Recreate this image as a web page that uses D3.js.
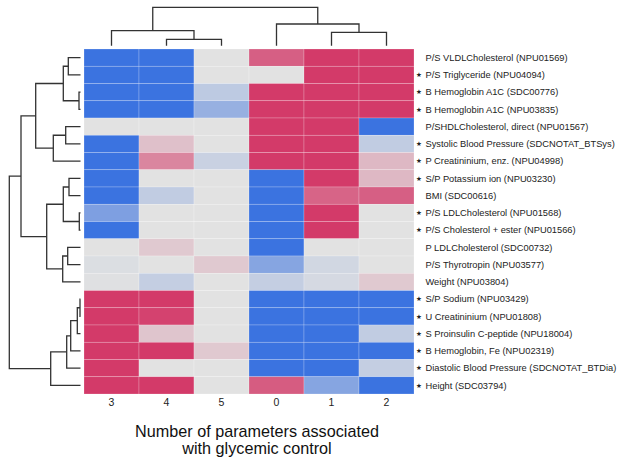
<!DOCTYPE html>
<html><head><meta charset="utf-8">
<script src="https://cdn.jsdelivr.net/npm/d3@7"></script>
<style>body{margin:0;background:#fff}svg{display:block}</style>
</head><body>
<svg id="chart" width="617" height="459"></svg>
<script>
// ---- data ----
const columns = ["3","4","5","0","1","2"];
const rowLabels = [
  "P/S VLDLCholesterol (NPU01569)",
  "P/S Triglyceride (NPU04094)",
  "B Hemoglobin A1C (SDC00776)",
  "B Hemoglobin A1C (NPU03835)",
  "P/SHDLCholesterol, direct (NPU01567)",
  "Systolic Blood Pressure (SDCNOTAT_BTSys)",
  "P Creatininium, enz. (NPU04998)",
  "S/P Potassium ion (NPU03230)",
  "BMI (SDC00616)",
  "P/S LDLCholesterol (NPU01568)",
  "P/S Cholesterol + ester (NPU01566)",
  "P LDLCholesterol (SDC00732)",
  "P/S Thyrotropin (NPU03577)",
  "Weight (NPU03804)",
  "S/P Sodium (NPU03429)",
  "U Creatininium (NPU01808)",
  "S Proinsulin C-peptide (NPU18004)",
  "B Hemoglobin, Fe (NPU02319)",
  "Diastolic Blood Pressure (SDCNOTAT_BTDia)",
  "Height (SDC03794)"
];
const starred = [false,true,true,true,false,true,true,true,false,true,true,false,false,false,true,true,true,true,true,true];
// values per row, in column order 3,4,5,0,1,2
const values = [
  [-1,-1,0,0.78,1,1],
  [-1,-1,0,0,1,1],
  [-1,-1,-0.22,1,1,1],
  [-1,-1,-0.45,1,1,1],
  [0,0,0,1,1,-1],
  [-1,0.2,0,1,1,-0.2],
  [-1,0.55,-0.15,1,1,0.25],
  [-1,0,0,-1,1,0.25],
  [-1,-0.2,0,-1,0.75,0.78],
  [-0.6,0,0,-1,1,0],
  [-1,0,0,-1,1,0],
  [0,0.15,0,-1,0,0],
  [-0.04,0,0.15,-0.55,-0.1,0],
  [-0.02,-0.18,0,-0.18,-0.08,0.15],
  [1,1,0,-1,-1,-1],
  [1,0.95,0,-1,-1,-1],
  [1,0.17,0,-1,-1,-0.2],
  [1,1,0.15,-1,-1,-1],
  [1,0,0,-1,-1,-0.18],
  [1,1,0,0.8,-0.55,-1]
];
// row linkage: [childA, childB, height]; clusters numbered from 20
const rowMerges = [
  [0,1,12.2],[2,3,1.5],[20,21,17.2],[4,5,14.8],[23,6,27.2],[22,24,44.8],
  [7,8,11.5],[9,10,1.2],[26,27,17.2],[11,12,12.8],[29,13,17.8],[28,30,33.8],
  [25,31,59.5],[14,15,0.5],[33,16,3.2],[34,17,9.8],[35,18,13.8],[36,19,29.8],
  [32,37,71.2]
];
// column linkage (display positions 0..5); clusters numbered from 6
const colMerges = [[1,2,6.4],[0,6,15],[4,5,13.4],[3,8,21.7],[7,9,38.4]];
const titleLines = ["Number of parameters associated","with glycemic control"];

// ---- layout ----
const svg = d3.select("#chart");
const x = d3.scaleBand().domain(columns).range([84,414]);
const y = d3.scaleBand().domain(d3.range(rowLabels.length)).range([49,394]);
const color = d3.scaleLinear().domain([-1,0,1]).range(["#3b73e0","#e2e2e2","#d33a69"]);

const cells = [];
values.forEach((row,i)=>row.forEach((v,j)=>cells.push({i,j,v})));
svg.append("g").selectAll("rect").data(cells).join("rect")
  .attr("x",d=>x(columns[d.j])).attr("y",d=>y(d.i))
  .attr("width",x.bandwidth()).attr("height",y.bandwidth())
  .attr("fill",d=>color(d.v))
  .attr("stroke","#ffffff").attr("stroke-opacity",0.35).attr("stroke-width",0.6);

// row labels
const lab = svg.append("g").attr("font-family","'Liberation Sans', Arial, Helvetica, sans-serif").attr("fill","#222");
lab.selectAll("text.lbl").data(rowLabels).join("text").attr("class","lbl")
  .attr("x",425.5).attr("y",(d,i)=>y(i)+y.bandwidth()/2).attr("dy","0.35em")
  .attr("font-size",9.3).text(d=>d);
lab.selectAll("text.star").data(rowLabels.map((d,i)=>i).filter(i=>starred[i])).join("text").attr("class","star")
  .attr("x",419).attr("y",i=>y(i)+y.bandwidth()/2).attr("dy","0.33em")
  .attr("text-anchor","middle").attr("font-family","'DejaVu Sans', sans-serif")
  .attr("font-size",6.5).text("★");

// column labels
svg.append("g").attr("font-family","'Liberation Sans', Arial, sans-serif").attr("fill","#222")
  .selectAll("text").data(columns).join("text")
  .attr("x",d=>x(d)+x.bandwidth()/2).attr("y",406).attr("text-anchor","middle")
  .attr("font-size",10.5).text(d=>d);

// title
svg.append("g").attr("font-family","'Liberation Sans', Arial, sans-serif").attr("fill","#111")
  .selectAll("text").data(titleLines).join("text")
  .attr("x",257).attr("y",(d,i)=>437+i*16.5).attr("text-anchor","middle")
  .attr("font-size",16.2).text(d=>d);

// dendrograms
function dendro(merges, nLeaves, leafPos, hScale, orient){
  const pos = leafPos.slice(), ht = new Array(nLeaves).fill(0);
  const paths = [];
  merges.forEach(([a,b,h])=>{
    const pa=pos[a], pb=pos[b], ha=ht[a], hb=ht[b];
    const p = d3.path();
    if(orient==="left"){
      p.moveTo(hScale(ha),pa); p.lineTo(hScale(h),pa); p.lineTo(hScale(h),pb); p.lineTo(hScale(hb),pb);
    } else {
      p.moveTo(pa,hScale(ha)); p.lineTo(pa,hScale(h)); p.lineTo(pb,hScale(h)); p.lineTo(pb,hScale(hb));
    }
    paths.push(p.toString());
    pos.push((pa+pb)/2); ht.push(h);
  });
  return paths;
}
const rowH = d3.scaleLinear().domain([0,71.2]).range([80.5,9.3]);
const rowPaths = dendro(rowMerges, rowLabels.length, rowLabels.map((d,i)=>y(i)+y.bandwidth()/2), rowH, "left");
const colH = d3.scaleLinear().domain([0,38.4]).range([45.7,7.3]);
const colPaths = dendro(colMerges, columns.length, columns.map(c=>x(c)+x.bandwidth()/2), colH, "top");
svg.append("g").selectAll("path").data(rowPaths.concat(colPaths)).join("path")
  .attr("d",d=>d).attr("fill","none").attr("stroke","#333").attr("stroke-width",1.3);
</script>
</body></html>
